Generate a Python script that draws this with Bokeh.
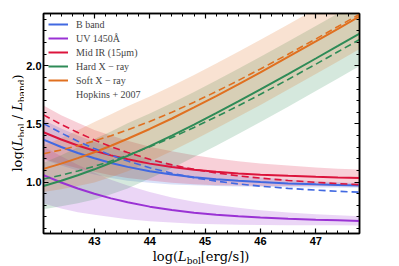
import numpy as np
from bokeh.plotting import figure
from bokeh.models import Range1d, LinearAxis, Legend, LegendItem, FixedTicker, Div
from bokeh.layouts import row, column
from bokeh.embed import file_html
from bokeh.resources import INLINE

# ---------------- data ----------------
log_lbol = [42.08, 42.4, 42.7, 43.0, 43.3, 43.6, 44.0, 44.4, 44.8, 45.2, 45.6, 46.0, 46.5, 47.0, 47.4, 47.8]

# solid curves (this work)
b_band = [1.365, 1.302, 1.250, 1.205, 1.165, 1.131, 1.094, 1.065, 1.042, 1.025, 1.011, 1.000, 0.989, 0.981, 0.976, 0.971]
uv_1450 = [1.060, 0.997, 0.945, 0.900, 0.860, 0.826, 0.789, 0.760, 0.737, 0.720, 0.706, 0.695, 0.684, 0.676, 0.671, 0.666]
mid_ir = [1.429, 1.366, 1.315, 1.269, 1.230, 1.196, 1.159, 1.130, 1.107, 1.089, 1.075, 1.064, 1.054, 1.046, 1.040, 1.036]
hard_x = [0.967, 1.012, 1.059, 1.110, 1.166, 1.226, 1.310, 1.400, 1.495, 1.593, 1.694, 1.797, 1.929, 2.063, 2.171, 2.280]
soft_x = [1.114, 1.159, 1.206, 1.257, 1.313, 1.373, 1.457, 1.547, 1.642, 1.740, 1.841, 1.944, 2.076, 2.210, 2.318, 2.427]

# scatter half-widths of the shaded bands (dex)
b_sig = [0.17, 0.16, 0.15, 0.14, 0.13, 0.12, 0.10, 0.085, 0.07, 0.058, 0.048, 0.04, 0.033, 0.027, 0.023, 0.02]
uv_sig = [0.245, 0.225, 0.205, 0.18, 0.16, 0.145, 0.125, 0.108, 0.095, 0.083, 0.073, 0.064, 0.055, 0.048, 0.043, 0.04]
ir_sig = [0.23, 0.21, 0.195, 0.18, 0.17, 0.16, 0.145, 0.135, 0.125, 0.115, 0.105, 0.097, 0.088, 0.08, 0.075, 0.072]
x_sig = [0.20, 0.22, 0.24, 0.26, 0.27, 0.28, 0.28, 0.28, 0.28, 0.28, 0.28, 0.28, 0.28, 0.28, 0.28, 0.28]

# dashed curves (Hopkins+2007)
b_hop = [1.503, 1.422, 1.352, 1.288, 1.231, 1.181, 1.123, 1.076, 1.038, 1.008, 0.984, 0.965, 0.946, 0.931, 0.921, 0.913]
ir_hop = [1.578, 1.496, 1.426, 1.362, 1.305, 1.254, 1.196, 1.148, 1.110, 1.079, 1.054, 1.034, 1.014, 0.998, 0.987, 0.978]
hard_hop = [1.026, 1.060, 1.096, 1.136, 1.181, 1.231, 1.304, 1.384, 1.470, 1.561, 1.656, 1.755, 1.883, 2.014, 2.121, 2.228]
soft_hop = [1.244, 1.277, 1.313, 1.354, 1.399, 1.449, 1.521, 1.601, 1.687, 1.778, 1.874, 1.973, 2.100, 2.231, 2.338, 2.446]

x_ticks = [43, 44, 45, 46, 47]
y_ticks = [1.0, 1.5, 2.0]
y_tick_labels = {1.0: "1.0", 1.5: "1.5", 2.0: "2.0"}

labels = ["B band", "UV 1450Å", "Mid IR (15μm)", "Hard X − ray", "Soft X − ray"]
hop_label = "Hopkins + 2007"
colors = ["#4169e1", "#9a32d4", "#dc143c", "#2e8b57", "#e07020"]

# ---------------- figure ----------------
YDIV_W = 23
W, H = 399 - YDIV_W, 250
p = figure(width=W, height=H, output_backend="svg", toolbar_location=None,
           x_range=Range1d(42.08, 47.79), y_range=Range1d(0.558, 2.45),
           min_border_left=20, min_border_right=40, min_border_top=13, min_border_bottom=17)
p.xaxis.visible = False
p.yaxis.visible = False
p.grid.visible = False
p.outline_line_color = "black"
p.outline_line_width = 1.5
p.background_fill_color = "white"
p.border_fill_color = "white"

x_minor = [round(v, 2) for v in np.arange(42.2, 47.8, 0.2)]
y_minor = [round(v, 2) for v in np.arange(0.6, 2.45, 0.1)]


def style_axis(ax, ticks, minor, show):
    ax.ticker = FixedTicker(ticks=ticks, minor_ticks=minor)
    ax.axis_line_color = "black"
    ax.axis_line_width = 1.5
    ax.major_tick_in = 5
    ax.major_tick_out = 0
    ax.minor_tick_in = 3
    ax.minor_tick_out = 0
    ax.major_tick_line_width = 1.2
    ax.minor_tick_line_width = 1
    ax.major_tick_line_color = "black"
    ax.minor_tick_line_color = "black"
    if show:
        ax.major_label_text_font = "Liberation Sans"
        ax.major_label_text_font_size = "11px"
        ax.major_label_text_font_style = "bold"
        ax.major_label_text_color = "black"
        ax.major_label_standoff = 3
    else:
        ax.major_label_text_font_size = "1px"
        ax.major_label_text_color = None
        ax.major_label_standoff = 0


bx = LinearAxis(); style_axis(bx, x_ticks, x_minor, True)
tx = LinearAxis(); style_axis(tx, x_ticks, x_minor, False)
ly = LinearAxis(); style_axis(ly, y_ticks, y_minor, True)
ly.major_label_overrides = y_tick_labels
ly.major_label_standoff = 2
ry = LinearAxis(); style_axis(ry, y_ticks, y_minor, False)
p.add_layout(bx, "below")
p.add_layout(tx, "above")
p.add_layout(ly, "left")
p.add_layout(ry, "right")

solids = [b_band, uv_1450, mid_ir, hard_x, soft_x]
sigs = [b_sig, uv_sig, ir_sig, x_sig, x_sig]
xs = np.array(log_lbol)
for ys, sg, c in zip(solids, sigs, colors):
    ys = np.array(ys); sg = np.array(sg)
    p.varea(x=xs, y1=ys - sg, y2=ys + sg, fill_color=c, fill_alpha=0.2)

renderers = []
for ys, c in zip(solids, colors):
    renderers.append(p.line(xs, ys, line_color=c, line_width=2))

hop_series = [(b_hop, colors[0]), (ir_hop, colors[2]), (hard_hop, colors[3]), (soft_hop, colors[4])]
for ys, c in hop_series:
    p.line(xs, ys, line_color=c, line_width=1.6, line_dash="7 4")

r_hop = p.line(x=[], y=[], line_color="black", line_width=1.8, line_dash="7 4")

items = [LegendItem(label=l, renderers=[r]) for l, r in zip(labels, renderers)]
items.append(LegendItem(label=hop_label, renderers=[r_hop]))
legend = Legend(items=items, location="top_left", margin=5, padding=6, spacing=2,
                label_height=12, glyph_height=12, glyph_width=20, label_standoff=8,
                border_line_color=None, background_fill_alpha=0,
                label_text_font="Liberation Serif", label_text_font_size="10px")
p.add_layout(legend)

# ---------------- axis labels (HTML text with italics and subscripts) ----------------
SUB = "<sub style=\"font-size:9px;vertical-align:-3px;line-height:0;\">{}</sub>"
FONT = "font-family:'DejaVu Serif';font-size:13px;line-height:13px;color:black;white-space:nowrap;"

y_html = ("<div style=\"position:relative;width:%dpx;height:266px;\">"
          "<div style=\"position:absolute;left:17px;top:123px;"
          "transform:translate(-50%%,-50%%) rotate(-90deg);%s\">"
          "log(<i>L</i>%s / <i>L</i>%s)</div></div>") % (YDIV_W, FONT, SUB.format("bol"), SUB.format("band"))
x_html = ("<div style=\"position:relative;width:%dpx;height:16px;\">"
          "<div style=\"position:absolute;left:%dpx;top:6px;"
          "transform:translate(-50%%,-50%%);%s\">"
          "log(<i>L</i>%s[erg/s])</div></div>") % (W, 201 - YDIV_W, FONT, SUB.format("bol"))

ydiv = Div(text=y_html, width=YDIV_W, height=266, margin=(0, 0, 0, 0))
xdiv = Div(text=x_html, width=W, height=16, margin=(0, 0, 0, 0))

layout = row(ydiv, column(p, xdiv, spacing=0), spacing=0)

open("out.html", "w").write(file_html(layout, INLINE))
